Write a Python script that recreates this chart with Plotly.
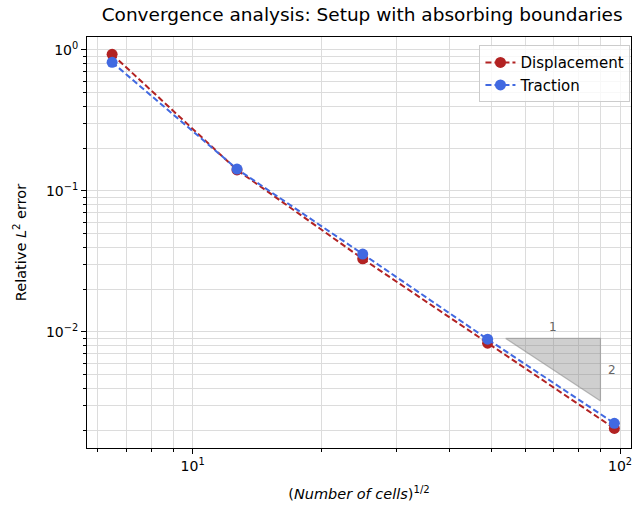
import plotly.graph_objects as go
import numpy as np

x_vals = [6.48, 12.7, 25.0, 49.0, 97.0]
disp_err = [0.932, 0.141, 0.0330, 0.00832, 0.00207]
trac_err = [0.818, 0.143, 0.0357, 0.00888, 0.00225]

tri_x = [54, 90, 90, 54]
tri_y = [0.009, 0.009, 0.009 * (54 / 90) ** 2, 0.009]

font = "DejaVu Sans"
fig = go.Figure()

fig.add_trace(go.Scatter(x=tri_x, y=tri_y, mode="lines", fill="toself",
                         fillcolor="rgba(128,128,128,0.38)",
                         line=dict(color="rgba(128,128,128,0.5)", width=1.2),
                         showlegend=False, hoverinfo="skip"))

fig.add_trace(go.Scatter(x=x_vals, y=disp_err, mode="lines+markers", name="Displacement",
                         line=dict(color="#b22222", width=2, dash="6px,3px"),
                         marker=dict(size=11, color="#b22222")))
fig.add_trace(go.Scatter(x=x_vals, y=trac_err, mode="lines+markers", name="Traction",
                         line=dict(color="#4169e1", width=2, dash="6px,3px"),
                         marker=dict(size=11, color="#4169e1")))

fig.add_annotation(x=np.log10(np.sqrt(54 * 90)), y=np.log10(0.0108), text="1", showarrow=False,
                   font=dict(size=12, color="#666666", family=font))
fig.add_annotation(x=np.log10(95.9), y=np.log10(0.0054), text="2", showarrow=False,
                   font=dict(size=12, color="#666666", family=font))

grid = "#dcdcdc"
xminor = [v * 10 ** e for e in (0, 1) for v in range(2, 10) if 5.5 < v * 10 ** e < 107]
yminor = [v * 10 ** e for e in (-3, -2, -1, 0) for v in range(2, 10) if 0.0014 < v * 10 ** e < 1.3]

fig.update_xaxes(type="log", range=[np.log10(5.66), 2.0257],
                 tickvals=[10, 100], ticktext=["10<sup>1</sup>", "10<sup>2</sup>"],
                 ticklabeloverflow="allow",
                 ticks="outside", ticklen=5, tickcolor="black",
                 showgrid=True, gridcolor=grid, gridwidth=1,
                 minor=dict(tickvals=xminor, ticks="outside", ticklen=3, tickcolor="black",
                            showgrid=True, gridcolor=grid, gridwidth=1),
                 showline=True, linecolor="black", linewidth=1, mirror=True, zeroline=False,
                 title=dict(text="(<i>Number of cells</i>)<sup>1/2</sup>", font=dict(size=14.5, family=font), standoff=16),
                 tickfont=dict(size=14, family=font, color="black"))
fig.update_yaxes(type="log", range=[-2.823, 0.092],
                 tickvals=[0.01, 0.1, 1], ticktext=["10<sup>−2</sup>", "10<sup>−1</sup>", "10<sup>0</sup>"],
                 ticklabeloverflow="allow",
                 ticks="outside", ticklen=5, tickcolor="black",
                 showgrid=True, gridcolor=grid, gridwidth=1,
                 minor=dict(tickvals=yminor, ticks="outside", ticklen=3, tickcolor="black",
                            showgrid=True, gridcolor=grid, gridwidth=1),
                 showline=True, linecolor="black", linewidth=1, mirror=True, zeroline=False,
                 title=dict(text="Relative <i>L</i><sup>2</sup> error", font=dict(size=14.5, family=font), standoff=15),
                 tickfont=dict(size=14, family=font, color="black"))

fig.update_layout(
    width=632, height=509,
    margin=dict(l=87, r=1, t=37, b=61),
    paper_bgcolor="white", plot_bgcolor="white",
    title=dict(text="Convergence analysis: Setup with absorbing boundaries", x=0.573, xanchor="center",
               y=0.985, yanchor="top", font=dict(size=18.5, family=font, color="black")),
    legend=dict(x=0.999, y=0.98, xanchor="right", yanchor="top",
                bgcolor="rgba(255,255,255,0.8)", bordercolor="#cccccc", borderwidth=1,
                font=dict(size=15, family=font, color="black"), tracegroupgap=0),
    font=dict(family=font, color="black"),
)

fig.write_html("out.html")
